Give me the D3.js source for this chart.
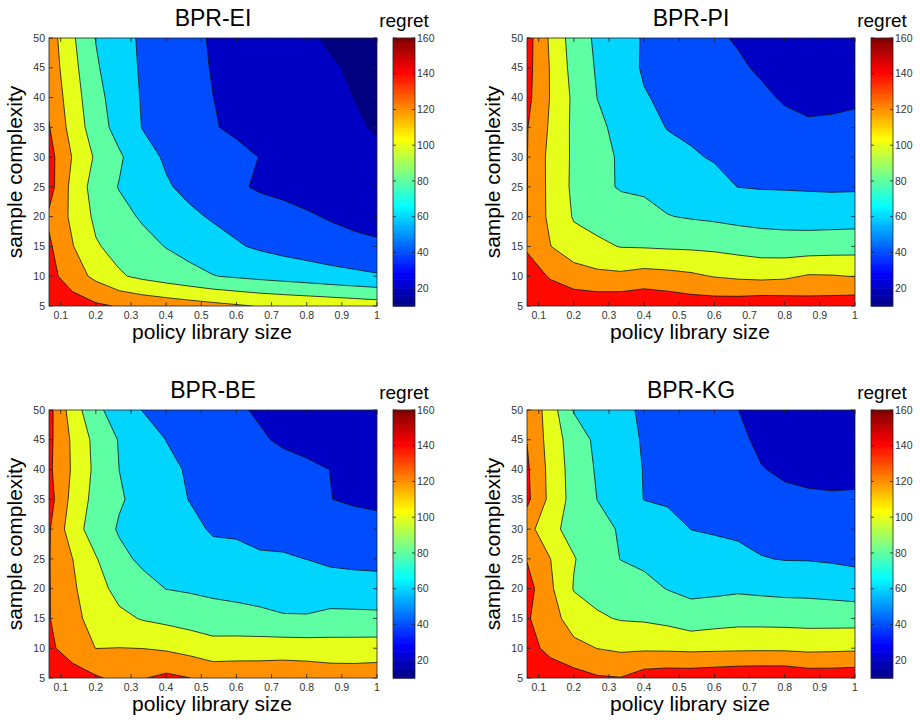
<!DOCTYPE html>
<html>
<head>
<meta charset="utf-8">
<script src="https://cdn.jsdelivr.net/npm/d3@7"></script>
<style>
  body { margin: 0; background: #fff; }
  svg { display: block; font-family: "Liberation Sans", Arial, sans-serif; }
</style>
</head>
<body>
<svg id="chart" width="920" height="722"></svg>
<script>
// grid the regret was measured on
var librarySizes = [0.0667, 0.1333, 0.2, 0.2667, 0.3333, 0.4, 0.4667, 0.5333, 0.6, 0.6667, 0.7333, 0.8, 0.8667, 0.9333, 1];
var sampleComplexity = [5, 10, 15, 20, 25, 30, 35, 40, 45, 50];

var levels = [20, 40, 60, 80, 100, 120, 140, 160];
var colorRange = [10, 160];
var colorTicks = [20, 40, 60, 80, 100, 120, 140, 160];
var xTickValues = [0.1, 0.2, 0.3, 0.4, 0.5, 0.6, 0.7, 0.8, 0.9, 1];
var yTickValues = [5, 10, 15, 20, 25, 30, 35, 40, 45, 50];
var panelTitles = ["BPR-EI", "BPR-PI", "BPR-BE", "BPR-KG"];

// regret, one row per sample complexity (5 .. 50), one column per library size
var regretEI = [
  [156, 150, 143, 138.7, 134.5, 131.4, 128.4, 125.3, 122.2, 119, 117, 115.5, 114, 112, 110],
  [147, 129.3, 115.4, 102.2, 95.8, 90.8, 85.8, 80.7, 77.7, 75, 72.5, 70, 67, 64.5, 62],
  [143, 121.1, 101.9, 93.5, 86.3, 79.3, 73.5, 67.6, 61.8, 57.5, 54, 51, 48, 45.5, 43],
  [137, 116, 95.9, 86.3, 77.6, 70.6, 63.6, 58.1, 54.2, 50.2, 46.2, 42.2, 38.5, 35, 33],
  [148, 114.1, 91.7, 79, 70.5, 62, 55.2, 49.1, 42.9, 37.5, 35, 32.5, 30, 27.5, 25],
  [147, 119.1, 97.2, 82.8, 67.1, 57.6, 53.1, 48.6, 44.2, 39.7, 36, 32, 28.5, 25, 22],
  [141, 112.3, 89.6, 72.6, 59.3, 53.2, 47.1, 41, 37.3, 34.1, 30.9, 27.7, 24.5, 21.3, 19],
  [136, 109.3, 86.3, 70.4, 58.5, 52.4, 46.2, 40.1, 36.7, 33.4, 30, 26.7, 23.3, 19.9, 17],
  [132, 106.2, 82.3, 68.3, 57.7, 51.2, 44.7, 39.1, 35.6, 32.1, 28.6, 25.1, 21.6, 18, 14],
  [130, 103, 79.4, 66.9, 57.1, 50.6, 44, 38.4, 34.3, 30.2, 26.1, 22, 18, 15, 12]
];

var regretPI = [
  [158, 152, 151.5, 153.7, 154.8, 157, 154, 150.7, 150.5, 151.3, 153.5, 152.4, 149.4, 150.1, 152.1],
  [148, 138.5, 131, 125.1, 124, 127.5, 125.9, 123.3, 119.1, 116.6, 115.1, 116.5, 121.7, 121.2, 119.4],
  [138, 120.5, 107, 103.6, 99.3, 98.6, 97.6, 96.9, 95.8, 93.3, 90.7, 89.6, 89.9, 91.1, 92.2],
  [140.5, 115, 98.5, 93.5, 88.2, 86.2, 80.7, 78.5, 76.7, 74.4, 73, 72.2, 71.5, 71.4, 71.5],
  [140.5, 114.6, 96.2, 84.6, 78.5, 76.9, 72.6, 69.7, 64.8, 59.8, 58.8, 58.5, 58, 57.5, 57.8],
  [140.5, 114.4, 96.7, 86.8, 77.5, 71.6, 66, 61.6, 58.8, 56, 54, 52, 50.2, 50.2, 50.9],
  [141, 117.2, 96, 84, 74.7, 66.4, 59.3, 57.4, 55.2, 51.5, 48.6, 45, 42.2, 42.7, 44.1],
  [145.3, 119, 96.2, 79.8, 71, 61.2, 56.7, 53, 49.3, 46.5, 43.2, 38.1, 36, 36.5, 37.5],
  [146.7, 118.7, 93, 78, 68, 58, 54.7, 50.7, 46.6, 42.4, 37.7, 34, 32, 32, 34],
  [148, 116.7, 90.6, 76.4, 67, 58.5, 53.2, 47.8, 42.4, 38.5, 33, 30, 29, 29, 31]
];

var regretBE = [
  [155, 152, 142, 136, 139, 144.4, 140.3, 135, 135, 134, 134, 133, 131.6, 131, 132],
  [145, 128, 119.8, 120.3, 119.8, 117.5, 113.1, 107.7, 108.8, 109.7, 110.7, 110, 108.4, 108.4, 109],
  [141, 124.8, 113.75, 104.4, 98.65, 95.2, 91.7, 88.75, 87.4, 85.1, 81.8, 81.7, 85.5, 85.6, 85],
  [141, 123, 107.5, 93.7, 86.4, 79.7, 77.9, 75.7, 73.8, 72, 71.1, 70.2, 68.8, 67.6, 67.2],
  [141, 120.3, 101.25, 84.9, 76.4, 72.9, 70.4, 66, 63.7, 61.6, 61.7, 59.8, 56.7, 55.6, 54.9],
  [142, 108.6, 90.8, 78, 74.6, 69.8, 64.8, 58, 58.1, 56.2, 54.3, 52.4, 50.4, 48.6, 46.5],
  [148, 113.8, 93.6, 82, 73.8, 66.3, 59.5, 56.3, 53.1, 49.9, 46.7, 43.5, 40.3, 37.5, 36],
  [143.6, 117.8, 95.5, 79.9, 71.8, 63.7, 58.3, 55.3, 52.2, 49.2, 46.1, 43.1, 39.9, 37, 35],
  [144.8, 116.8, 94.2, 78.8, 69.2, 59.8, 55.3, 50.8, 46.4, 42, 37.5, 35, 32.5, 30, 28],
  [146.3, 110.3, 84.7, 70.5, 59.5, 55.2, 50.8, 46.5, 42.2, 38, 35, 32, 29, 27, 25]
];

var regretKG = [
  [155, 150, 147.4, 142, 140.6, 149.7, 151.8, 151.8, 153.7, 155.5, 156, 156, 152, 152, 153],
  [146, 135.3, 125.7, 119.7, 116.7, 117, 116.5, 115.6, 116, 116.5, 116.8, 116.6, 115.25, 115.8, 116.6],
  [142, 128.5, 110.4, 102.4, 98.7, 97.6, 94.5, 88.4, 91.4, 93.4, 93.3, 92.9, 92.4, 92.3, 92.2],
  [148, 123.3, 98.9, 94, 89.1, 85.7, 79.3, 75.5, 75.8, 77.2, 75.8, 74.5, 74.1, 72.5, 70.4],
  [139, 120.2, 101.1, 88.9, 79.6, 75.9, 72.6, 68.5, 65.9, 64.6, 60.9, 59.2, 59, 57.9, 56.1],
  [128, 104.7, 93.7, 85.7, 78.3, 72.4, 66.4, 59.8, 58.5, 56.9, 53.5, 52, 51, 49.8, 48.8],
  [144.3, 114.7, 92.6, 79.8, 69.6, 59.6, 57.8, 55.7, 53.6, 52.7, 47.2, 44.3, 42.4, 41.6, 41.5],
  [143, 114, 91.6, 78, 68.1, 59.3, 55.5, 51.7, 49.5, 47, 40.9, 37, 36, 36, 37],
  [139.5, 112, 89.6, 76, 66.1, 58.5, 54.5, 50.5, 46.5, 44.2, 36, 33, 32, 32, 34],
  [139, 109.3, 78.8, 71.2, 63.6, 57.7, 53.2, 48.8, 44.4, 40.2, 33, 30, 29, 29, 32]
];

var panels = [
  { title: panelTitles[0], grid: regretEI, ox: 0, oy: 0 },
  { title: panelTitles[1], grid: regretPI, ox: 478, oy: 0 },
  { title: panelTitles[2], grid: regretBE, ox: 0, oy: 372 },
  { title: panelTitles[3], grid: regretKG, ox: 478, oy: 372 }
];

// matlab jet colormap over the colorbar range
var span = colorRange[1] - colorRange[0];
var jet = d3.scaleLinear()
  .domain([0, 0.125, 0.375, 0.625, 0.875, 1].map(function(t) { return colorRange[0] + t * span; }))
  .range(["#000080", "#0000ff", "#00ffff", "#ffff00", "#ff0000", "#800000"])
  .clamp(true);

var svg = d3.select("#chart");
var tickColor = "#222", labelColor = "#333";

panels.forEach(function(p, k) {
  var g = svg.append("g").attr("transform", "translate(" + p.ox + "," + p.oy + ")");

  var x = d3.scaleLinear().domain([librarySizes[0], librarySizes[librarySizes.length - 1]]).range([49, 377]);
  var y = d3.scaleLinear().domain([sampleComplexity[0], sampleComplexity[sampleComplexity.length - 1]]).range([306, 38]);

  // d3.contours puts grid value i at i + 0.5
  var nx = librarySizes.length, ny = sampleComplexity.length;
  var gx = d3.scaleLinear().domain([0.5, nx - 0.5]).range([x(librarySizes[0]), x(librarySizes[nx - 1])]);
  var gy = d3.scaleLinear().domain([0.5, ny - 0.5]).range([y(sampleComplexity[0]), y(sampleComplexity[ny - 1])]);
  var path = d3.geoPath(d3.geoTransform({
    point: function(px, py) { this.stream.point(gx(px), gy(py)); }
  }));

  var values = d3.merge(p.grid);
  var bands = d3.contours().size([nx, ny]).thresholds(levels)(values);

  g.append("clipPath").attr("id", "clip" + k)
    .append("rect").attr("x", 49).attr("y", 38).attr("width", 328).attr("height", 268);

  var plot = g.append("g").attr("clip-path", "url(#clip" + k + ")");
  plot.append("rect").attr("x", 49).attr("y", 38).attr("width", 328).attr("height", 268)
    .attr("fill", jet(colorRange[0]));
  plot.selectAll("path").data(bands).join("path")
    .attr("d", path)
    .attr("fill", function(c) { return jet(c.value); })
    .attr("stroke", function(c) { return c.value === levels[0] ? "none" : "#111"; })
    .attr("stroke-width", 0.8)
    .attr("stroke-linejoin", "round");

  // frame and inward ticks
  g.append("rect").attr("x", 49).attr("y", 38).attr("width", 328).attr("height", 268)
    .attr("fill", "none").attr("stroke", tickColor).attr("stroke-width", 0.8);

  var tl = 4;
  xTickValues.forEach(function(v) {
    g.append("line").attr("x1", x(v)).attr("x2", x(v)).attr("y1", 306).attr("y2", 306 - tl)
      .attr("stroke", tickColor).attr("stroke-width", 0.8);
    g.append("line").attr("x1", x(v)).attr("x2", x(v)).attr("y1", 38).attr("y2", 38 + tl)
      .attr("stroke", tickColor).attr("stroke-width", 0.8);
    g.append("text").attr("x", x(v)).attr("y", 319)
      .attr("text-anchor", "middle").attr("font-size", 10.5).attr("fill", labelColor)
      .text(d3.format("")(v));
  });
  yTickValues.forEach(function(v) {
    g.append("line").attr("x1", 49).attr("x2", 49 + tl).attr("y1", y(v)).attr("y2", y(v))
      .attr("stroke", tickColor).attr("stroke-width", 0.8);
    g.append("line").attr("x1", 377).attr("x2", 377 - tl).attr("y1", y(v)).attr("y2", y(v))
      .attr("stroke", tickColor).attr("stroke-width", 0.8);
    g.append("text").attr("x", 45).attr("y", y(v)).attr("dy", "0.35em")
      .attr("text-anchor", "end").attr("font-size", 10.5).attr("fill", labelColor)
      .text(v);
  });

  // colorbar
  var cy = d3.scaleLinear().domain(colorRange).range([306, 38]);
  var stripes = d3.range(colorRange[0], colorRange[1], 1);
  g.selectAll("rect.cb").data(stripes).join("rect").attr("class", "cb")
    .attr("x", 393).attr("width", 22)
    .attr("y", function(v) { return cy(v + 1); })
    .attr("height", function(v) { return cy(v) - cy(v + 1) + 0.6; })
    .attr("fill", function(v) { return jet(v + 0.5); });
  g.append("rect").attr("x", 393).attr("y", 38).attr("width", 22).attr("height", 268)
    .attr("fill", "none").attr("stroke", tickColor).attr("stroke-width", 0.8);
  colorTicks.forEach(function(v) {
    g.append("line").attr("x1", 393).attr("x2", 396).attr("y1", cy(v)).attr("y2", cy(v))
      .attr("stroke", tickColor).attr("stroke-width", 0.8);
    g.append("line").attr("x1", 415).attr("x2", 412).attr("y1", cy(v)).attr("y2", cy(v))
      .attr("stroke", tickColor).attr("stroke-width", 0.8);
    g.append("text").attr("x", 417).attr("y", cy(v)).attr("dy", "0.35em")
      .attr("font-size", 10.5).attr("fill", labelColor).text(v);
  });

  // titles and labels
  g.append("text").attr("x", 213).attr("y", 26).attr("text-anchor", "middle")
    .attr("font-size", 23).attr("fill", "#000").text(p.title);
  g.append("text").attr("x", 404).attr("y", 27).attr("text-anchor", "middle")
    .attr("font-size", 19).attr("fill", "#000").text("regret");
  g.append("text").attr("x", 212).attr("y", 339).attr("text-anchor", "middle")
    .attr("font-size", 21).attr("fill", "#000").text("policy library size");
  g.append("text").attr("transform", "translate(22,172) rotate(-90)").attr("text-anchor", "middle")
    .attr("font-size", 21).attr("fill", "#000").text("sample complexity");
});
</script>
</body>
</html>
